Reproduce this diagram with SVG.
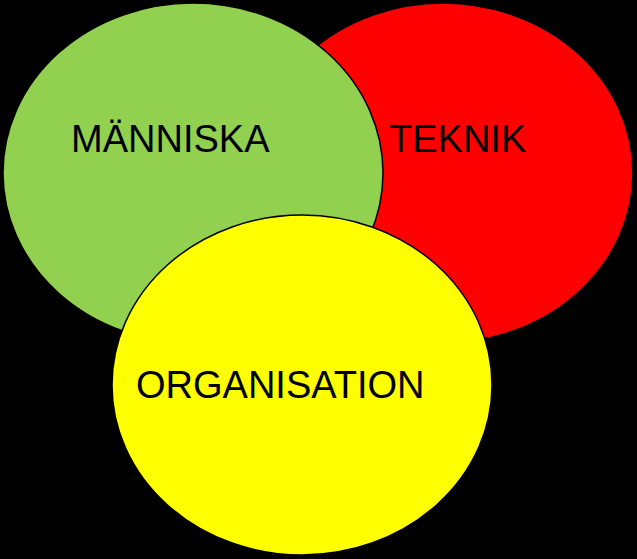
<svg xmlns="http://www.w3.org/2000/svg" width="637" height="559" viewBox="0 0 637 559">
<style>
.c{stroke:#000;stroke-width:1.5}
.t{font-family:"Liberation Sans",Arial,sans-serif;font-size:38px;fill:#000}
</style>
<rect width="637" height="559" fill="#000"/>
<g id="teknik">
<ellipse class="c" cx="443" cy="173" rx="190" ry="170" fill="#FF0000"/>
<text class="t" x="389" y="152">TEKNIK</text>
</g>
<g id="manniska">
<ellipse class="c" cx="193" cy="173" rx="190" ry="170" fill="#92D050"/>
<text class="t" x="71" y="152">MÄNNISKA</text>
</g>
<g id="organisation">
<ellipse class="c" cx="302" cy="385" rx="190" ry="170" fill="#FFFF00"/>
<text class="t" x="136" y="398">ORGANISATION</text>
</g>
<g id="connectors"/>
</svg>
